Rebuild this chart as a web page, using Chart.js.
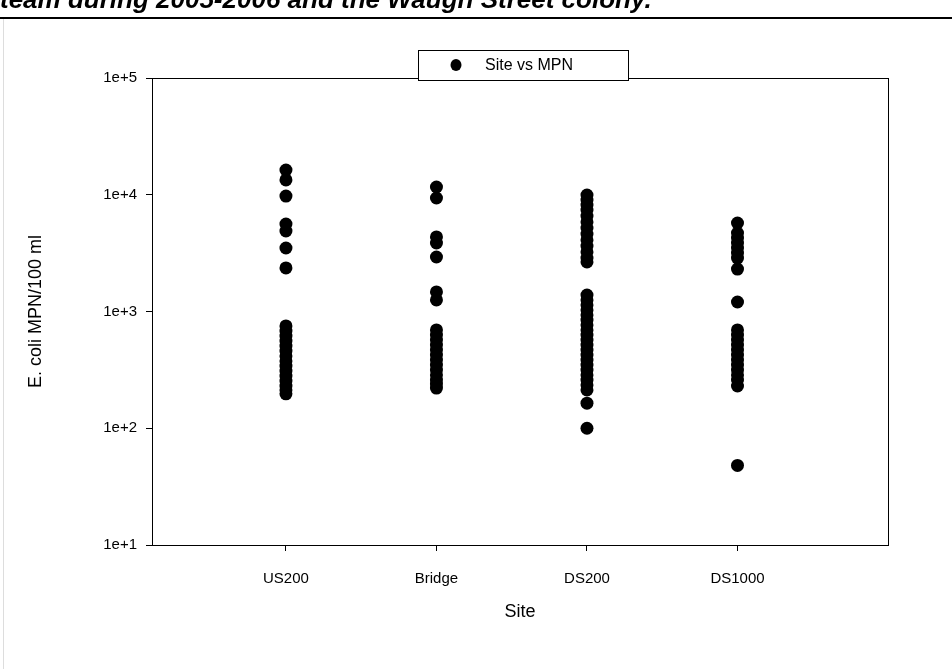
<!DOCTYPE html>
<html>
<head>
<meta charset="utf-8">
<script src="https://cdn.jsdelivr.net/npm/chart.js@4/dist/chart.umd.min.js"></script>
<style>
  html, body { margin: 0; padding: 0; background: #fff; }
  #page { position: relative; width: 952px; height: 669px; overflow: hidden; }
  #caption {
    position: absolute; left: 0; top: -16px; white-space: nowrap; line-height: 26px;
    font: italic bold 26px "Liberation Sans", Arial, sans-serif; color: #000;
  }
  #rule { position: absolute; left: 0; top: 17px; width: 952px; height: 2px; background: #000; }
  #edge { position: absolute; left: 3px; top: 19px; width: 1px; height: 650px; background: #ddd; }
  #wrap { position: absolute; left: 0; top: 0; width: 952px; height: 669px; }
</style>
</head>
<body>
<div id="page">
  <div id="wrap"><canvas id="chart"></canvas></div>
  <div id="caption">team during 2005-2006 and the Waugh Street colony.</div>
  <div id="rule"></div>
  <div id="edge"></div>
</div>
<script>
// ---- data (MPN per 100 ml) ----
const sites = ['US200', 'Bridge', 'DS200', 'DS1000'];
const us200 = [16300, 13400, 9750, 5610, 4890, 3500, 2360,
  752, 681, 617, 559, 506, 459, 416, 377, 341, 309, 280, 254, 230, 213, 197];
const bridge = [11650, 9380, 4350, 3860, 2930, 1470, 1256,
  695, 629, 570, 516, 468, 424, 384, 348, 315, 286, 259, 239, 221];
const ds200 = [9950, 9020, 8170, 7400, 6580, 5850, 5190, 4610, 4100, 3640, 3240, 2870, 2660,
  1385, 1256, 1138, 1031, 934, 846, 767, 695, 629, 570, 516, 468, 424, 384, 348, 315, 286, 259, 235, 213,
  164, 100];
const ds1000 = [5730, 4700, 4260, 3860, 3500, 3170, 2870, 2310, 1206,
  695, 629, 570, 516, 468, 424, 384, 348, 315, 286, 259, 230, 48];
const yTicks = [10, 100, 1000, 10000, 100000];
const seriesLabel = 'Site vs MPN';

const allSites = [us200, bridge, ds200, ds1000];
const points = [];
allSites.forEach((vals, i) => vals.forEach(v => points.push({ x: i + 1, y: v })));

const FONT = '"Liberation Sans", Arial, sans-serif';

// frame around the plot area
const frame = {
  id: 'frame',
  afterDatasetsDraw(chart) {
    const { ctx, chartArea: a } = chart;
    ctx.save();
    ctx.strokeStyle = '#000';
    ctx.lineWidth = 1;
    ctx.strokeRect(a.left + 0.5, a.top + 0.5, a.right - a.left, a.bottom - a.top);
    ctx.restore();
  }
};

// boxed legend like the original
const boxLegend = {
  id: 'boxLegend',
  afterDraw(chart) {
    const { ctx } = chart;
    const ds = chart.data.datasets[0];
    const x = 418, y = 50, w = 210, h = 30;
    ctx.save();
    ctx.strokeStyle = '#000';
    ctx.lineWidth = 1;
    ctx.fillStyle = '#fff';
    ctx.fillRect(x, y, w, h);
    ctx.strokeRect(x + 0.5, y + 0.5, w, h);
    ctx.fillStyle = ds.backgroundColor;
    ctx.beginPath();
    ctx.ellipse(x + 38, y + h / 2, 5.5, 6, 0, 0, Math.PI * 2);
    ctx.fill();
    ctx.fillStyle = '#000';
    ctx.font = '16px ' + FONT;
    ctx.textBaseline = 'middle';
    ctx.fillText(ds.label, x + 67, y + h / 2 + 1);
    ctx.restore();
  }
};

new Chart(document.getElementById('chart'), {
  type: 'scatter',
  data: {
    datasets: [{
      label: seriesLabel,
      data: points,
      backgroundColor: '#000',
      borderColor: '#000',
      pointRadius: 6.5,
      pointHoverRadius: 6.5,
      borderWidth: 0
    }]
  },
  options: {
    responsive: true,
    maintainAspectRatio: false,
    animation: false,
    layout: { padding: { left: 0, top: 78, right: 64, bottom: 0 } },
    plugins: { legend: { display: false }, tooltip: { enabled: false } },
    scales: {
      x: {
        type: 'linear',
        min: 0.11,
        max: 5,
        afterFit(s) { s.height = 124; },
        afterBuildTicks(s) { s.ticks = sites.map((_, i) => ({ value: i + 1 })); },
        grid: { drawOnChartArea: false, drawTicks: true, tickLength: 6, color: '#000' },
        border: { display: false },
        ticks: {
          color: '#000', padding: 19, maxRotation: 0, autoSkip: false,
          font: { family: FONT, size: 15 },
          callback: v => sites[v - 1] || ''
        },
        title: {
          display: true, text: 'Site', color: '#000',
          font: { family: FONT, size: 18 },
          padding: { top: 0, bottom: 46 }
        }
      },
      y: {
        type: 'logarithmic',
        min: 10,
        max: 100000,
        afterFit(s) { s.width = 152; },
        afterBuildTicks(s) { s.ticks = yTicks.map(v => ({ value: v })); },
        grid: { drawOnChartArea: false, drawTicks: true, tickLength: 6, color: '#000' },
        border: { display: false },
        ticks: {
          color: '#000', padding: 9,
          font: { family: FONT, size: 15 },
          callback: v => '1e+' + Math.round(Math.log10(v))
        },
        title: {
          display: true, text: 'E. coli MPN/100 ml', color: '#000',
          font: { family: FONT, size: 18 },
          padding: { top: 25, bottom: 0 }
        }
      }
    }
  },
  plugins: [frame, boxLegend]
});
</script>
</body>
</html>
